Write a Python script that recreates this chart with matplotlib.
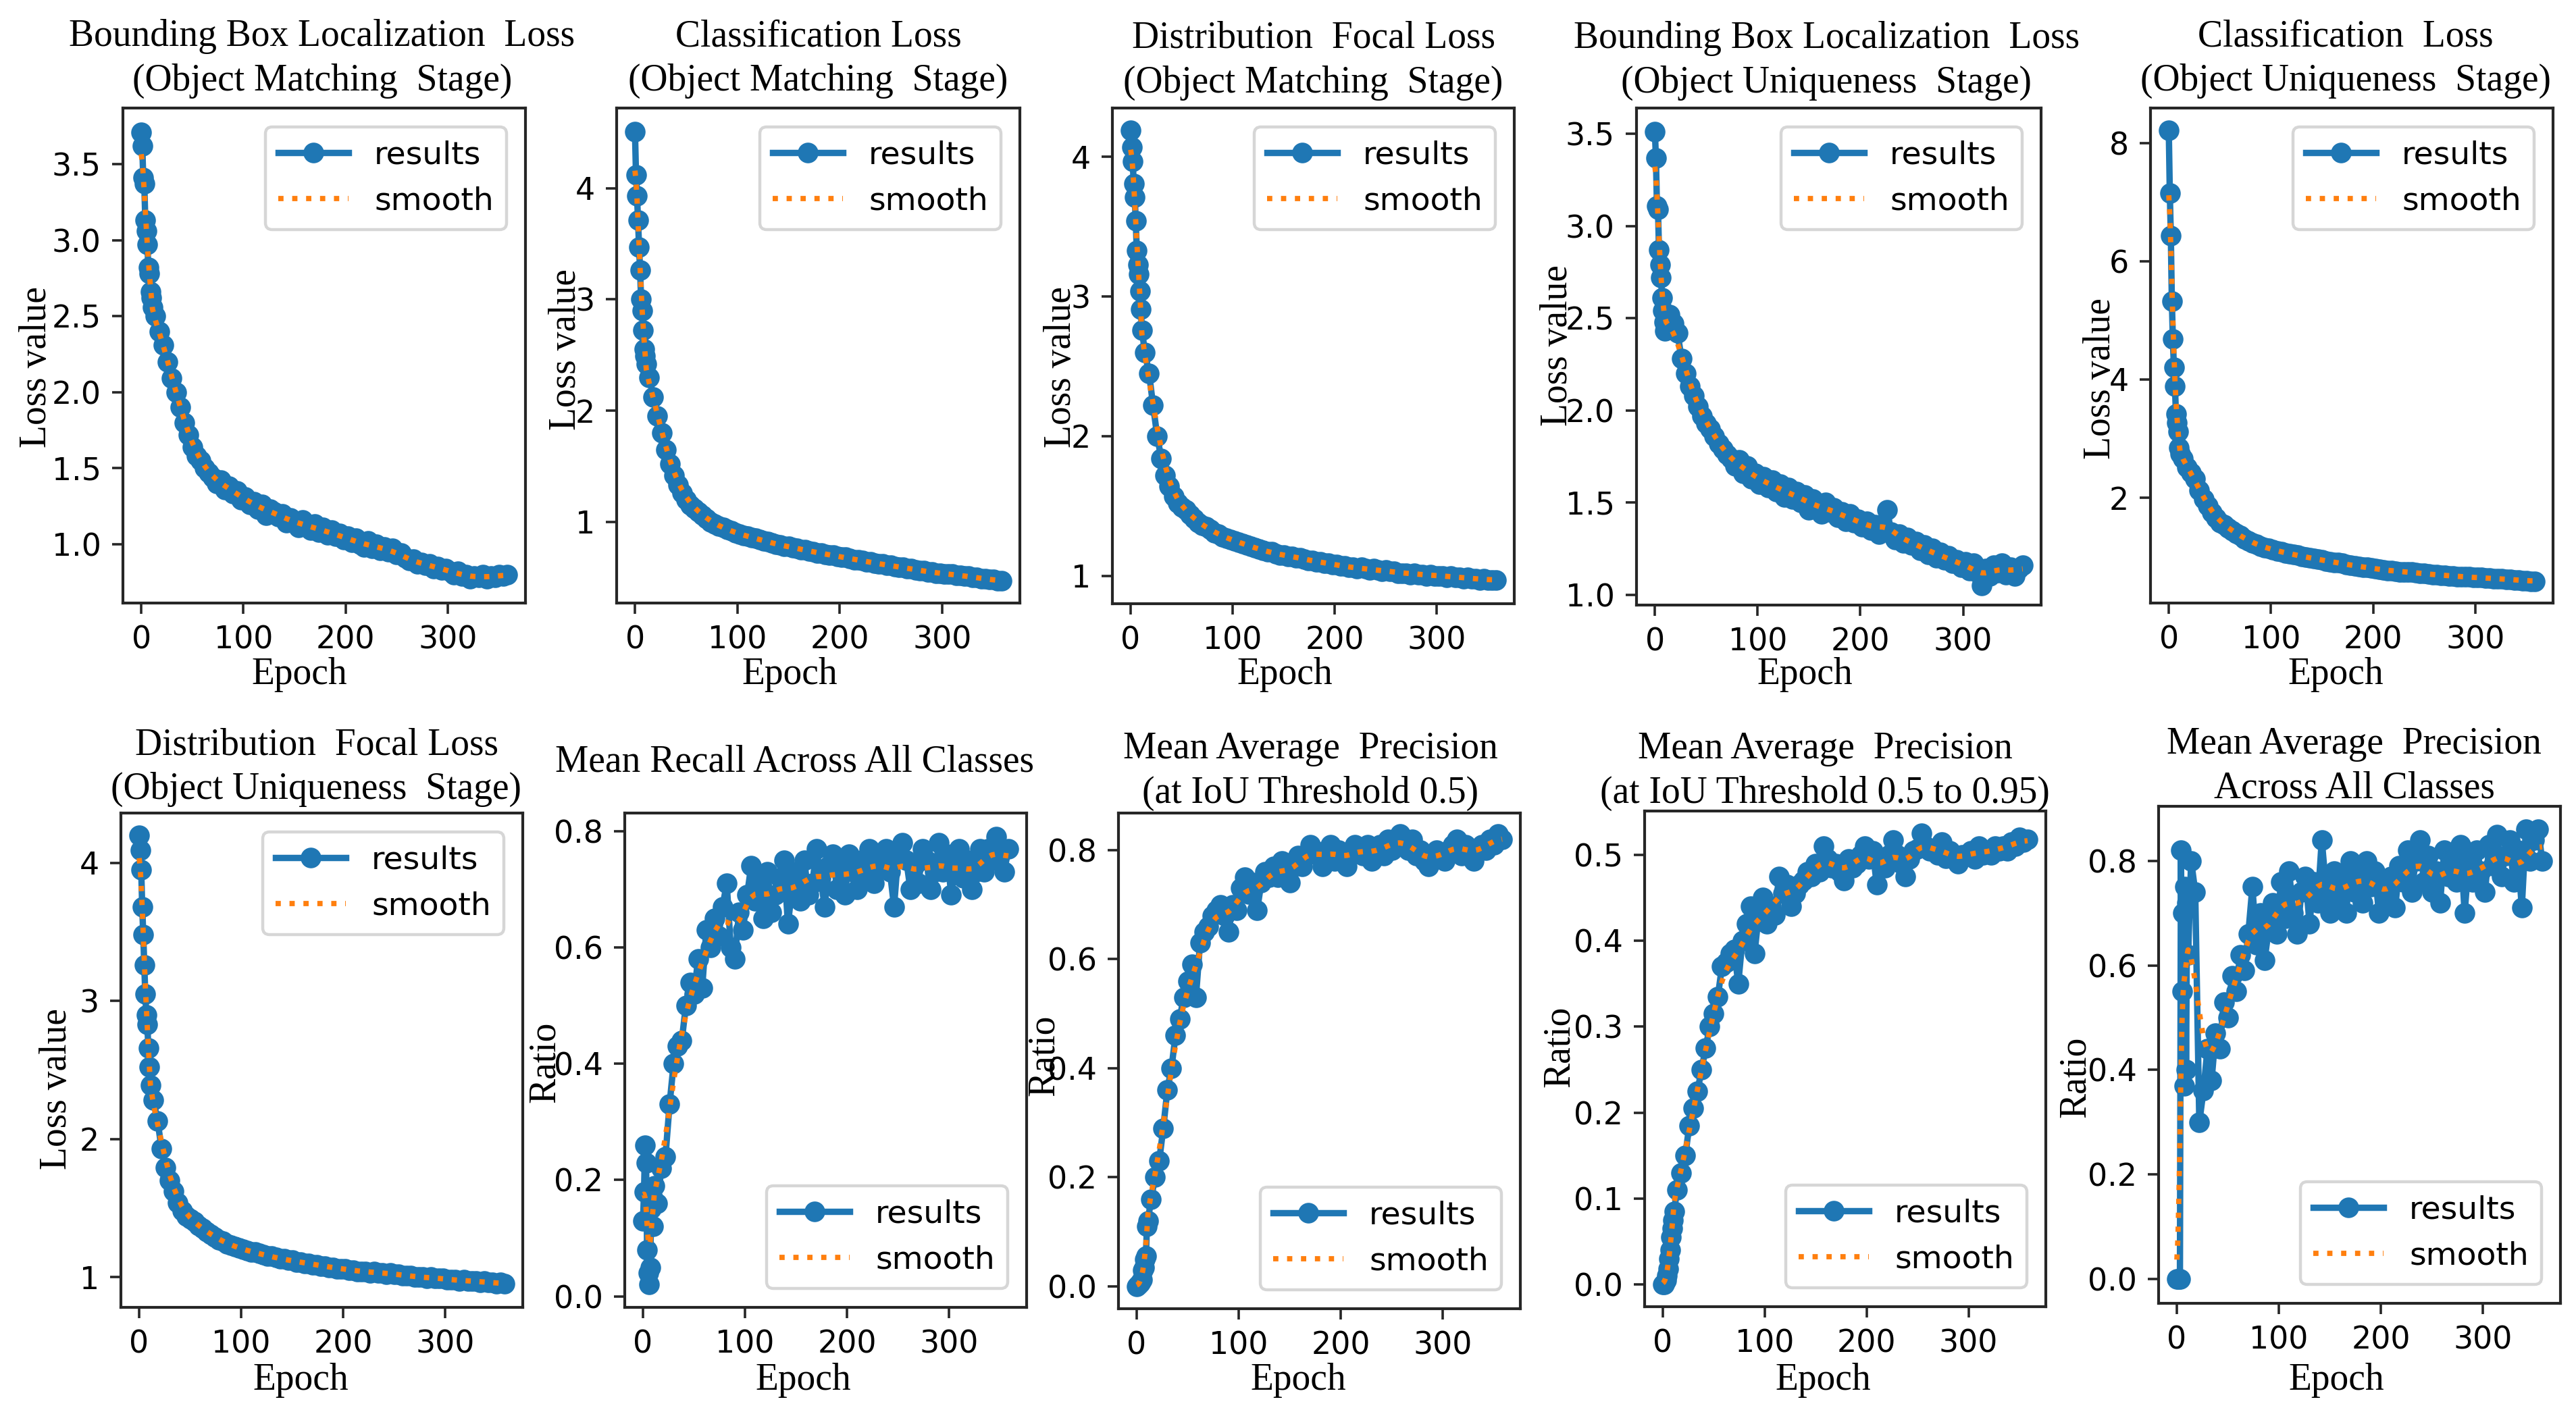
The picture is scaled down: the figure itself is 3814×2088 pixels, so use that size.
import numpy as np
import matplotlib
matplotlib.use("Agg")
import matplotlib.pyplot as plt

# ---------------- data ----------------
epochs = list(range(0, 12)) + list(range(14, 359, 4))

box_match = [
    3.71, 3.62, 3.41, 3.37, 3.13, 3.06, 2.97, 2.82, 2.78, 2.66, 2.62, 2.56,
    2.50, 2.40, 2.31, 2.20, 2.09, 2.00, 1.90, 1.80, 1.72, 1.64,
    1.58, 1.55, 1.50, 1.47, 1.44, 1.40, 1.42, 1.36, 1.38, 1.33,
    1.35, 1.29, 1.31, 1.26, 1.28, 1.23, 1.26, 1.19, 1.23, 1.21,
    1.18, 1.20, 1.14, 1.17, 1.15, 1.11, 1.16, 1.12, 1.09, 1.13,
    1.08, 1.11, 1.06, 1.09, 1.05, 1.07, 1.03, 1.05, 1.01, 1.04,
    1.00, 0.98, 1.02, 0.97, 1.00, 0.96, 0.98, 0.95, 0.97, 0.93,
    0.94, 0.91, 0.89, 0.90, 0.87, 0.88, 0.86, 0.87, 0.84, 0.85,
    0.83, 0.84, 0.82, 0.80, 0.82, 0.79, 0.80, 0.77, 0.79, 0.78,
    0.80, 0.77, 0.79, 0.78, 0.80, 0.79, 0.80]

cls_match = [
    4.51, 4.12, 3.93, 3.71, 3.47, 3.26, 3.00, 2.90, 2.72, 2.55, 2.49, 2.42,
    2.30, 2.12, 1.95, 1.80, 1.65, 1.52, 1.42, 1.33, 1.26, 1.20,
    1.15, 1.12, 1.09, 1.06, 1.03, 1.00, 0.98, 0.96, 0.95, 0.93,
    0.92, 0.90, 0.89, 0.88, 0.87, 0.86, 0.85, 0.84, 0.83, 0.82,
    0.81, 0.80, 0.79, 0.78, 0.78, 0.77, 0.76, 0.75, 0.75, 0.74,
    0.73, 0.72, 0.72, 0.71, 0.70, 0.70, 0.69, 0.68, 0.68, 0.67,
    0.66, 0.66, 0.65, 0.64, 0.64, 0.63, 0.62, 0.62, 0.61, 0.61,
    0.60, 0.59, 0.59, 0.58, 0.58, 0.57, 0.56, 0.56, 0.55, 0.55,
    0.54, 0.54, 0.53, 0.53, 0.53, 0.52, 0.52, 0.51, 0.51, 0.50,
    0.50, 0.49, 0.49, 0.48, 0.48, 0.47, 0.47]

dfl_match = [
    4.19, 4.07, 3.97, 3.81, 3.71, 3.54, 3.33, 3.23, 3.16, 3.04, 2.91, 2.76,
    2.60, 2.45, 2.22, 2.00, 1.84, 1.72, 1.64, 1.57, 1.52, 1.49,
    1.47, 1.44, 1.41, 1.38, 1.36, 1.35, 1.33, 1.31, 1.30, 1.28,
    1.27, 1.26, 1.25, 1.24, 1.23, 1.22, 1.21, 1.20, 1.19, 1.18,
    1.17, 1.17, 1.16, 1.15, 1.15, 1.14, 1.14, 1.13, 1.13, 1.12,
    1.11, 1.11, 1.10, 1.10, 1.09, 1.09, 1.08, 1.08, 1.07, 1.07,
    1.06, 1.06, 1.05, 1.06, 1.05, 1.04, 1.05, 1.04, 1.03, 1.04,
    1.03, 1.03, 1.02, 1.02, 1.02, 1.01, 1.02, 1.01, 1.01, 1.00,
    1.01, 1.00, 1.00, 1.00, 0.99, 1.00, 0.99, 0.99, 0.98, 0.99,
    0.98, 0.98, 0.97, 0.98, 0.97, 0.97, 0.97]

box_unique = [
    3.51, 3.37, 3.11, 3.09, 2.87, 2.79, 2.72, 2.61, 2.54, 2.48, 2.43, 2.50,
    2.52, 2.47, 2.42, 2.28, 2.20, 2.13, 2.08, 2.02, 1.97, 1.93,
    1.90, 1.86, 1.82, 1.79, 1.76, 1.74, 1.70, 1.73, 1.66, 1.70,
    1.63, 1.66, 1.60, 1.64, 1.58, 1.62, 1.56, 1.60, 1.53, 1.58,
    1.52, 1.56, 1.50, 1.54, 1.46, 1.52, 1.48, 1.44, 1.50, 1.45,
    1.47, 1.42, 1.45, 1.40, 1.44, 1.39, 1.41, 1.37, 1.40, 1.35,
    1.38, 1.33, 1.36, 1.46, 1.34, 1.30, 1.33, 1.28, 1.31, 1.27,
    1.29, 1.24, 1.27, 1.22, 1.25, 1.20, 1.23, 1.19, 1.21, 1.17,
    1.19, 1.15, 1.18, 1.13, 1.17, 1.12, 1.05, 1.14, 1.10, 1.16,
    1.12, 1.17, 1.11, 1.15, 1.10, 1.14, 1.16]

cls_unique = [
    8.21, 7.15, 6.43, 5.32, 4.68, 4.20, 3.89, 3.42, 3.27, 3.12, 2.85, 2.74,
    2.66, 2.51, 2.42, 2.32, 2.13, 1.98, 1.86, 1.75, 1.66, 1.58,
    1.54, 1.49, 1.44, 1.40, 1.36, 1.31, 1.27, 1.24, 1.21, 1.18,
    1.16, 1.14, 1.12, 1.10, 1.09, 1.07, 1.05, 1.04, 1.03, 1.01,
    1.00, 0.98, 0.97, 0.96, 0.95, 0.93, 0.92, 0.91, 0.90, 0.89,
    0.87, 0.86, 0.85, 0.84, 0.83, 0.82, 0.81, 0.80, 0.79, 0.78,
    0.77, 0.77, 0.76, 0.75, 0.75, 0.74, 0.74, 0.73, 0.72, 0.72,
    0.71, 0.70, 0.70, 0.69, 0.69, 0.68, 0.68, 0.67, 0.67, 0.66,
    0.66, 0.65, 0.65, 0.65, 0.64, 0.64, 0.63, 0.63, 0.63, 0.62,
    0.62, 0.61, 0.61, 0.60, 0.60, 0.59, 0.59]

dfl_unique = [
    4.20, 4.09, 3.95, 3.68, 3.48, 3.26, 3.05, 2.90, 2.83, 2.66, 2.52, 2.39,
    2.28, 2.13, 1.93, 1.79, 1.70, 1.62, 1.54, 1.48, 1.44, 1.42,
    1.40, 1.37, 1.35, 1.33, 1.31, 1.29, 1.27, 1.26, 1.24, 1.23,
    1.22, 1.21, 1.20, 1.19, 1.18, 1.18, 1.17, 1.16, 1.15, 1.15,
    1.14, 1.13, 1.13, 1.12, 1.12, 1.11, 1.11, 1.10, 1.10, 1.09,
    1.09, 1.08, 1.08, 1.07, 1.07, 1.06, 1.06, 1.06, 1.05, 1.05,
    1.04, 1.04, 1.04, 1.03, 1.04, 1.03, 1.03, 1.02, 1.03, 1.02,
    1.02, 1.01, 1.01, 1.01, 1.00, 1.00, 1.00, 0.99, 1.00, 0.99,
    0.99, 0.99, 0.98, 0.98, 0.98, 0.97, 0.98, 0.97, 0.97, 0.97,
    0.96, 0.97, 0.96, 0.96, 0.95, 0.96, 0.95]

recall = [
    0.13, 0.18, 0.26, 0.23, 0.08, 0.04, 0.02, 0.05, 0.15, 0.17, 0.12, 0.19,
    0.16, 0.22, 0.24, 0.33, 0.40, 0.43, 0.44, 0.50, 0.54, 0.52,
    0.58, 0.53, 0.63, 0.60, 0.65, 0.62, 0.67, 0.71, 0.60, 0.58,
    0.66, 0.63, 0.69, 0.74, 0.68, 0.71, 0.65, 0.73, 0.66, 0.69,
    0.72, 0.75, 0.64, 0.70, 0.73, 0.68, 0.75, 0.69, 0.71, 0.77,
    0.72, 0.67, 0.74, 0.76, 0.70, 0.74, 0.69, 0.76, 0.73, 0.70,
    0.75, 0.72, 0.77, 0.71, 0.75, 0.74, 0.77, 0.73, 0.67, 0.76,
    0.78, 0.75, 0.70, 0.74, 0.71, 0.77, 0.75, 0.70, 0.73, 0.78,
    0.73, 0.76, 0.69, 0.74, 0.77, 0.72, 0.75, 0.70, 0.73, 0.77,
    0.73, 0.77, 0.75, 0.79, 0.76, 0.73, 0.77]

map50 = [
    0.000, 0.002, 0.004, 0.006, 0.008, 0.012, 0.030, 0.035, 0.050, 0.055, 0.110, 0.120,
    0.160, 0.200, 0.230, 0.290, 0.360, 0.400, 0.460, 0.490, 0.530, 0.560,
    0.590, 0.530, 0.630, 0.650, 0.660, 0.680, 0.690, 0.700, 0.680, 0.650,
    0.700, 0.690, 0.730, 0.750, 0.720, 0.740, 0.690, 0.740, 0.760, 0.750,
    0.770, 0.750, 0.780, 0.760, 0.740, 0.770, 0.790, 0.770, 0.790, 0.810,
    0.800, 0.790, 0.770, 0.800, 0.810, 0.780, 0.800, 0.790, 0.770, 0.790,
    0.810, 0.800, 0.790, 0.810, 0.780, 0.800, 0.810, 0.790, 0.820, 0.800,
    0.820, 0.830, 0.810, 0.800, 0.820, 0.790, 0.800, 0.780, 0.770, 0.790,
    0.800, 0.790, 0.780, 0.800, 0.810, 0.820, 0.790, 0.810, 0.800, 0.780,
    0.800, 0.810, 0.800, 0.820, 0.810, 0.830, 0.820]

map50_95 = [
    0.000, 0.000, 0.002, 0.005, 0.010, 0.018, 0.030, 0.040, 0.055, 0.065, 0.075, 0.085,
    0.110, 0.130, 0.150, 0.185, 0.205, 0.225, 0.250, 0.275, 0.300, 0.315,
    0.335, 0.370, 0.375, 0.385, 0.390, 0.350, 0.400, 0.420, 0.440, 0.385,
    0.430, 0.450, 0.420, 0.440, 0.430, 0.475, 0.455, 0.465, 0.440, 0.455,
    0.465, 0.470, 0.480, 0.475, 0.490, 0.480, 0.510, 0.495, 0.485, 0.490,
    0.480, 0.470, 0.495, 0.485, 0.490, 0.500, 0.510, 0.495, 0.505, 0.465,
    0.490, 0.485, 0.500, 0.517, 0.500, 0.490, 0.475, 0.495, 0.505, 0.507,
    0.525, 0.510, 0.505, 0.507, 0.500, 0.515, 0.496, 0.505, 0.495, 0.490,
    0.500, 0.500, 0.505, 0.495, 0.510, 0.500, 0.505, 0.500, 0.510, 0.505,
    0.510, 0.505, 0.515, 0.510, 0.520, 0.515, 0.518]

map_all = [
    0.00, 0.00, 0.00, 0.00, 0.82, 0.55, 0.70, 0.37, 0.75, 0.40, 0.72, 0.62,
    0.80, 0.74, 0.30, 0.36, 0.44, 0.38, 0.47, 0.44, 0.53, 0.50,
    0.58, 0.55, 0.62, 0.59, 0.66, 0.75, 0.64, 0.70, 0.61, 0.67,
    0.72, 0.66, 0.76, 0.69, 0.78, 0.70, 0.66, 0.74, 0.77, 0.68,
    0.76, 0.72, 0.84, 0.75, 0.70, 0.78, 0.72, 0.77, 0.70, 0.80,
    0.74, 0.79, 0.72, 0.80, 0.75, 0.78, 0.70, 0.76, 0.73, 0.77,
    0.71, 0.79, 0.76, 0.82, 0.74, 0.80, 0.84, 0.76, 0.81, 0.74,
    0.78, 0.72, 0.82, 0.77, 0.80, 0.76, 0.83, 0.70, 0.80, 0.76,
    0.82, 0.78, 0.74, 0.83, 0.79, 0.85, 0.77, 0.81, 0.84, 0.76,
    0.82, 0.71, 0.86, 0.80, 0.84, 0.86, 0.80]

titles = [
    "Bounding Box Localization  Loss\n(Object Matching  Stage)",
    "Classification Loss\n(Object Matching  Stage)",
    "Distribution  Focal Loss\n(Object Matching  Stage)",
    "Bounding Box Localization  Loss\n(Object Uniqueness  Stage)",
    "Classification  Loss\n(Object Uniqueness  Stage)",
    "Distribution  Focal Loss\n(Object Uniqueness  Stage)",
    "Mean Recall Across All Classes",
    "Mean Average  Precision\n(at IoU Threshold 0.5)",
    "Mean Average  Precision\n(at IoU Threshold 0.5 to 0.95)",
    "Mean Average  Precision\nAcross All Classes",
]
series = [box_match, cls_match, dfl_match, box_unique, cls_unique,
          dfl_unique, recall, map50, map50_95, map_all]
ylabels = ["Loss value"] * 6 + ["Ratio"] * 4
x_label = "Epoch"
legend_labels = ["results", "smooth"]
x_ticks = [0, 100, 200, 300]
y_ticks = [
    ["1.0", "1.5", "2.0", "2.5", "3.0", "3.5"],
    ["1", "2", "3", "4"],
    ["1", "2", "3", "4"],
    ["1.0", "1.5", "2.0", "2.5", "3.0", "3.5"],
    ["2", "4", "6", "8"],
    ["1", "2", "3", "4"],
    ["0.0", "0.2", "0.4", "0.6", "0.8"],
    ["0.0", "0.2", "0.4", "0.6", "0.8"],
    ["0.0", "0.1", "0.2", "0.3", "0.4", "0.5"],
    ["0.0", "0.2", "0.4", "0.6", "0.8"],
]

# ---------------- layout (pixels in the 3814x2088 canvas) ----------------
W, H, DPI = 3814, 2088, 200
# left, right, top, bottom
rects = [
    (182, 778, 160, 893), (913, 1510, 160, 893), (1647, 2242, 160, 894),
    (2423, 3022, 160, 896), (3184, 3780, 160, 893),
    (179, 774, 1204, 1936), (925, 1520, 1204, 1936), (1656, 2251, 1204, 1938),
    (2435, 3029, 1201, 1935), (3196, 3791, 1194, 1930),
]
ylims = [(0.612, 3.87), (0.27, 4.72), (0.80, 4.35), (0.944, 3.64), (0.22, 8.59),
         (0.78, 4.36), (-0.019, 0.831), (-0.041, 0.868), (-0.026, 0.551), (-0.046, 0.904)]
ylab_dx = [-102, -49, -50, -91, -48, -69, -92, -84, -100, -97]
ylab_cy = [544, 518, 544, 512, 561, 1613, 1573, 1563, 1550, 1595]
xlab_dx = [-37, -42, -42, -50, -24, -31, -33, -31, -33, -34]
xlab_top = [973] * 5 + [2018] * 5
title_pad = [9.5, 9.5, 8.5, 8.5, 9.5, 7.5, 22, 5.5, 4, 0.5]
title_dx = [-3, 0, 0, -18, -9, -8, -46, -13, -30, -8]
legend_loc = ["upper right"] * 6 + ["lower right"] * 4

SERIF = ["Liberation Serif", "DejaVu Serif"]
SANS = ["DejaVu Sans"]


def gauss_smooth(y, sigma=2.0):
    y = np.asarray(y, dtype=float)
    r = int(4 * sigma + 0.5)
    k = np.exp(-0.5 * (np.arange(-r, r + 1) / sigma) ** 2)
    k /= k.sum()
    yp = np.pad(y, r, mode="symmetric")
    return np.convolve(yp, k, mode="valid")


fig = plt.figure(figsize=(W / DPI, H / DPI), dpi=DPI)
fig.patch.set_facecolor("white")

for i in range(10):
    l, r, t, b = rects[i]
    w, h = r - l, b - t
    ax = fig.add_axes([l / W, 1 - b / H, w / W, h / H])
    y = series[i]
    ax.plot(epochs, y, marker="o", markersize=10, linewidth=3.4,
            color="#1f77b4", label=legend_labels[0])
    ax.plot(epochs, gauss_smooth(y), ":", linewidth=2.8,
            color="#ff7f0e", label=legend_labels[1])
    ax.set_ylim(*ylims[i])
    ax.set_xticks(x_ticks, [str(v) for v in x_ticks])
    ax.set_yticks([float(v) for v in y_ticks[i]], y_ticks[i])

    for s in ax.spines.values():
        s.set_linewidth(1.5)
        s.set_color("#262626")
    ax.tick_params(labelsize=16.5, length=5.8, width=1.3, pad=5.8,
                   color="#262626", labelcolor="black")
    for lab in ax.get_xticklabels() + ax.get_yticklabels():
        lab.set_fontfamily(SANS)

    ax.set_title(titles[i], fontsize=20, family=SERIF, pad=title_pad[i],
                 x=0.5 + title_dx[i] / w, linespacing=1.34)
    ax.set_xlabel(x_label, fontsize=20, family=SERIF)
    ax.xaxis.set_label_coords(0.5 + xlab_dx[i] / w, -(xlab_top[i] - b) / h)
    ax.set_ylabel(ylabels[i], fontsize=20, family=SERIF)
    ax.yaxis.set_label_coords(ylab_dx[i] / w, 1 - (ylab_cy[i] - t) / h)

    leg = ax.legend(loc=legend_loc[i], prop={"family": SANS, "size": 17},
                    borderaxespad=0.6, handlelength=2.2, framealpha=0.8,
                    edgecolor="0.8", fancybox=True)
    leg.get_frame().set_linewidth(1.6)

fig.savefig("out.png", dpi=DPI, facecolor="white")
